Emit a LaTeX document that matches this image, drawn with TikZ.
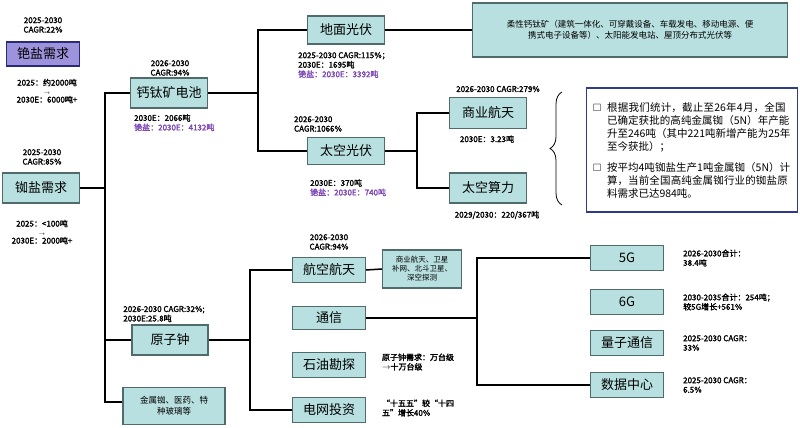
\documentclass[tikz,border=0pt]{standalone}
\usepackage{amssymb}
\usepackage{fontspec}
\setmainfont[AutoFakeBold=2]{Noto Sans CJK SC}
\XeTeXlinebreaklocale "zh"
\XeTeXlinebreakskip=0pt plus 1pt
\usetikzlibrary{decorations.pathreplacing}
\definecolor{boxfill}{HTML}{B9E0E0}
\definecolor{boxline}{HTML}{4F6B6B}
\definecolor{csfill}{HTML}{9D92DC}
\definecolor{csline}{HTML}{2A2A7A}
\definecolor{cspurple}{HTML}{7B44B4}
\definecolor{noteline}{HTML}{2E3A8C}
\newcommand{\bulletpar}[1]{\hangindent=14pt\hangafter=1\noindent\makebox[14pt][l]{$\square$}#1\par}
\begin{document}
\begin{tikzpicture}[x=1pt,y=-1pt,
      every node/.append style={inner sep=1pt},
      box/.style={draw=boxline,fill=boxfill,line width=1.3pt,font=\fontsize{13}{15}\selectfont,minimum height=#1,inner xsep=4pt},
      box/.default=26pt,
      lab/.style={font=\bfseries\fontsize{8}{9.5}\selectfont,align=left},
      link/.style={line width=1.5pt}]
    \useasboundingbox (0,0) rectangle (800,428);
    % left column
    \node (CsNeed) [box=24pt,fill=csfill,draw=csline,minimum width=73pt] at (43,54) {铯盐需求};
    \node [lab,align=center] at (43,25) {2025-2030\\CAGR:22\%};
    \node [lab,align=center] at (47,91) {2025：约2000吨\\[-1pt]{\tiny$\rightarrow$}\\[-1pt]2030E：6000吨+};
    \node (RbNeed) [box=30pt,minimum width=77pt] at (41,188) {铷盐需求};
    \node [lab,align=center] at (42,157) {2025-2030\\CAGR:85\%};
    \node [lab,align=center] at (42,232) {2025：<100吨\\[-1pt]{\tiny$\rightarrow$}\\[-1pt]2030E：2000吨+};
    % perovskite branch
    \node (Perov) [box=30pt,minimum width=77pt] at (169,93) {钙钛矿电池};
    \node [lab,align=center] at (170,68) {2026-2030\\CAGR:94\%};
    \node [lab,anchor=north west] at (133,113) {2030E：2066吨\\{\color{cspurple}铯盐：2030E：4132吨}};
    \node (Ground) [box=28pt,minimum width=77pt] at (346,30) {地面光伏};
    \node [lab,anchor=north west] at (297,51) {2025-2030 CAGR:115\%；\\2030E：1695吨\\{\color{cspurple}铯盐：2030E：3392吨}};
    \node (Flex) [box=54pt,minimum width=315pt,font=\fontsize{8.5}{11}\selectfont,align=center] at (630,30) {柔性钙钛矿（建筑一体化、可穿戴设备、车载发电、移动电源、便\\携式电子设备等）、太阳能发电站、屋顶分布式光伏等};
    \node (Space) [box=27pt,minimum width=77pt] at (346,151) {太空光伏};
    \node [lab,align=left] at (318,124) {2026-2030\\CAGR:1066\%};
    \node [lab,anchor=north west] at (309,178) {2030E：370吨\\{\color{cspurple}铯盐：2030E：740吨}};
    \node (ComSpace) [box=31pt,minimum width=77pt] at (488,113) {商业航天};
    \node [lab] at (498,89) {2026-2030 CAGR:279\%};
    \node [lab] at (487,139) {2030E：3.23吨};
    \node (SpaceComp) [box=30pt,minimum width=77pt] at (488,188) {太空算力};
    \node [lab] at (497,215) {2029/2030：220/367吨};
    \coordinate (BraceTop) at (562,92);
    \coordinate (BraceBot) at (562,205);
    \draw [line width=0.8pt,decorate,decoration={brace,amplitude=12pt}] (BraceBot) -- (BraceTop);
    \node (Note) [draw=noteline,line width=1.5pt,fill=white,minimum width=211pt,minimum height=124pt,
      text width=198pt,font=\fontsize{10.5}{13}\selectfont,align=left,inner sep=4pt] at (692,150)
      {\bulletpar{根据我们统计，截止至26年4月，全国已确定获批的高纯金属铷（5N）年产能升至246吨（其中221吨新增产能为25年至今获批）；}
       \vspace{8pt}
       \bulletpar{按平均4吨铷盐生产1吨金属铷（5N）计算，当前全国高纯金属铷行业的铷盐原料需求已达984吨。}};
    % atomic clock branch
    \node (Clock) [box=30pt,minimum width=76pt] at (170,340) {原子钟};
    \node [lab] at (164,314) {2026-2030 CAGR:32\%;\\2030E:25.8吨};
    \node (Metal) [box=37pt,minimum width=102pt,font=\fontsize{8.5}{11}\selectfont,align=center] at (174,406) {金属铷、医药、特\\种玻璃等};
    \node (Aero) [box=25pt,minimum width=73pt] at (329,270) {航空航天};
    \node [lab,align=center] at (329,242) {2026-2030\\CAGR:94\%};
    \node (AeroUse) [box=38pt,minimum width=79pt,font=\fontsize{7.5}{9}\selectfont,align=center] at (422,269) {商业航天、卫星\\补网、北斗卫星、\\深空探测};
    \node (Comm) [box=23pt,minimum width=73pt] at (329,318) {通信};
    \node (Oil) [box=25pt,minimum width=73pt] at (329,365) {石油勘探};
    \node [lab] at (418,362) {原子钟需求：万台级\\$\rightarrow$十万台级};
    \node (Grid) [box=25pt,minimum width=73pt] at (329,410) {电网投资};
    \node [lab] at (418,408) {“十五五”较“十四\\五”增长40\%};
    \node (FiveG) [box=25pt,minimum width=73pt] at (627,258) {5G};
    \node [lab,anchor=west] at (682,258) {2026-2030合计：\\38.4吨};
    \node (SixG) [box=25pt,minimum width=73pt] at (627,302) {6G};
    \node [lab,anchor=west] at (682,302) {2030-2035合计：254吨；\\较5G增长+561\%};
    \node (Quantum) [box=25pt,minimum width=73pt] at (627,343) {量子通信};
    \node [lab,anchor=west] at (682,343) {2025-2030 CAGR：\\33\%};
    \node (DataCtr) [box=25pt,minimum width=73pt] at (627,385) {数据中心};
    \node [lab,anchor=west] at (682,385) {2025-2030 CAGR：\\6.5\%};
    % connectors
    \draw [link] (RbNeed.east) -- (105,188);
    \draw [link] (Perov.west) -| (105,402) -- (Metal.west |- 0,402);
    \draw [link] (105,340) -- (Clock.west);
    \draw [link] (Perov.east) -- (258,93);
    \draw [link] (Ground.west) -| (258,151) -- (Space.west);
    \draw [link] (Ground.east) -- (Flex.west);
    \draw [link] (Space.east) -- (417,151);
    \draw [link] (ComSpace.west) -| (417,188) -- (SpaceComp.west);
    \draw [link] (Clock.east) -- (250,340);
    \draw [link] (Aero.west) -| (250,410) -- (Grid.west);
    \draw [link] (Aero.east) -- (AeroUse.west);
    \draw [link] (Comm.east) -- (477,318);
    \draw [link] (FiveG.west) -| (477,385) -- (DataCtr.west);
\end{tikzpicture}
\end{document}
